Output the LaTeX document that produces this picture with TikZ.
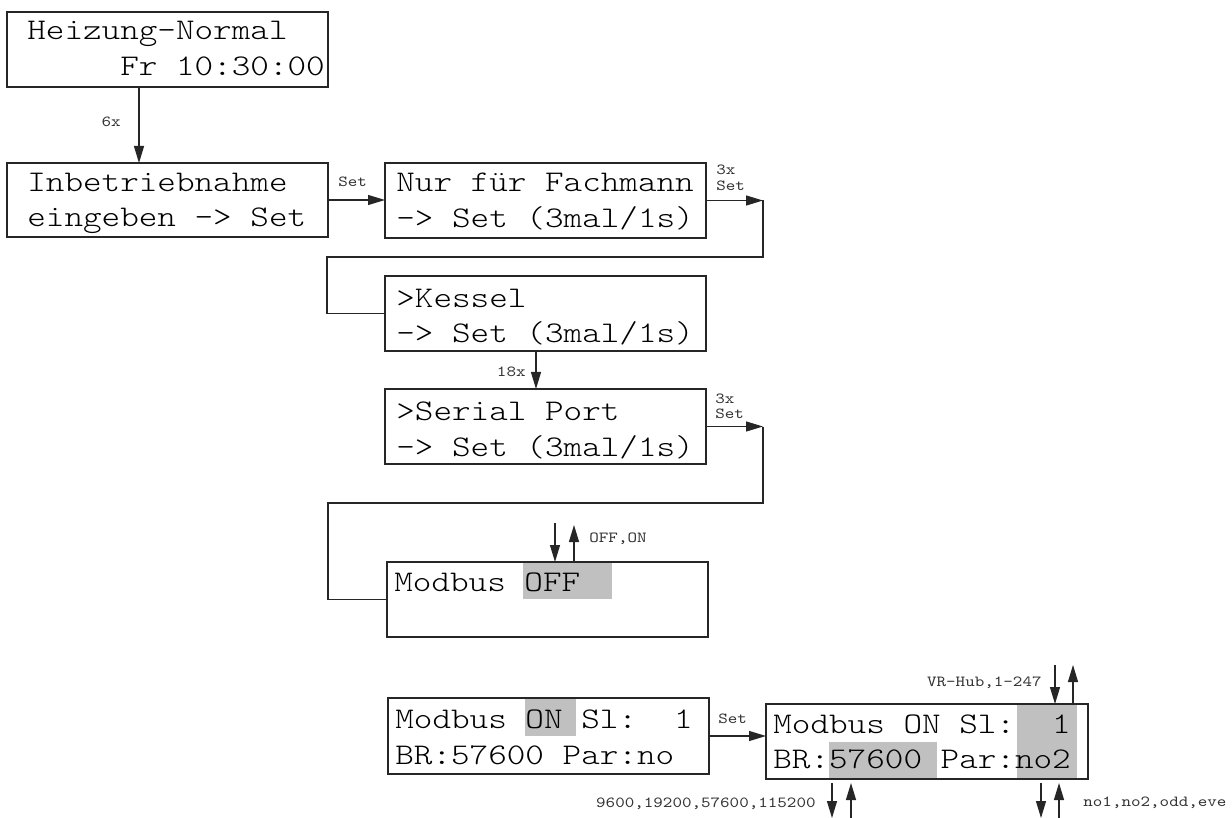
\documentclass[tikz,border=0pt]{standalone}
\usepackage{fontspec}
\newfontfamily\lcdfont{lmmonolt10-regular.otf}[FakeStretch=1.18]
\newfontfamily\lblfont{lmmono10-regular.otf}[FakeStretch=1.18]
\usetikzlibrary{arrows.meta}
\definecolor{hl}{RGB}{192,192,192}
\begin{document}
\begin{tikzpicture}[x=0.5pt,y=-0.5pt,
  lcdbox/.style={draw=black!85, line width=0.6pt, inner sep=0pt, outer sep=0pt, anchor=north west},
  lcd/.style={inner sep=0pt, anchor=base west, font=\lcdfont\fontsize{15}{18}\selectfont\frenchspacing},
  lbl/.style={inner sep=0pt, text=black!80, font=\lblfont\fontsize{7.7}{9}\selectfont\frenchspacing},
  arr/.style={draw=black!85, line width=0.6pt, -{Triangle[length=8.5pt,width=5pt]}},
  wire/.style={draw=black!85, line width=0.6pt}]
\useasboundingbox (0,0) rectangle (1232,818);

% highlights
\fill[hl] (523,562) rectangle (612,599);
\fill[hl] (525,698) rectangle (576,736);
\fill[hl] (1017,704) rectangle (1077,779);
\fill[hl] (829,742) rectangle (937,779);

% boxes
\node[lcdbox, minimum width=160.5pt, minimum height=37.5pt] (A) at (7,12) {};
\node[lcdbox, minimum width=160.5pt, minimum height=37pt] (B) at (7,163) {};
\node[lcdbox, minimum width=160.5pt, minimum height=37.5pt] (C) at (385,163) {};
\node[lcdbox, minimum width=160.5pt, minimum height=37.5pt] (D) at (385,276) {};
\node[lcdbox, minimum width=160.5pt, minimum height=37.5pt] (E) at (385,389) {};
\node[lcdbox, minimum width=160.5pt, minimum height=37.5pt] (F) at (387,562) {};
\node[lcdbox, minimum width=160.5pt, minimum height=38pt] (G) at (388,698) {};
\node[lcdbox, minimum width=161pt, minimum height=37.5pt] (H) at (766,704) {};

% texts
\node[lcd] (A1) at (27,40) {Heizung-Normal};
\node[lcd] (A2) at (27,76) {\ \ \ \ \ Fr 10:30:00};
\node[lcd] (B1) at (27,192) {Inbetriebnahme};
\node[lcd] (B2) at (27,227) {eingeben -> Set};
\node[lcd] (C1) at (396,192) {Nur für Fachmann};
\node[lcd] (C2) at (396,228) {-> Set (3mal/1s)};
\node[lcd] (D1) at (396,307) {>Kessel};
\node[lcd] (D2) at (396,343) {-> Set (3mal/1s)};
\node[lcd] (E1) at (396,420) {>Serial Port};
\node[lcd] (E2) at (396,456) {-> Set (3mal/1s)};
\node[lcd] (F1) at (394,591) {Modbus OFF};
\node[lcd] (G1) at (395,728) {Modbus ON Sl:\ \ 1};
\node[lcd] (G2) at (395,764) {BR:57600 Par:no};
\node[lcd] (H1) at (773,733) {Modbus ON Sl:\ \ 1};
\node[lcd] (H2) at (773,768) {BR:57600 Par:no2};

% connector A -> B
\draw[arr] ([xshift=66pt]A.south west) -- ([xshift=66pt]B.north west);
\node[lbl, anchor=base east] (l6x) at (121,127) {6x};

% B -> C
\draw[arr] (B.east) -- (B.east -| C.west);
\node[lbl, anchor=base west] (lset1) at (338,187) {Set};

% C -> D
\coordinate (r1) at (763,200.5);
\coordinate (r2) at (763,257);
\coordinate (r3) at (327,257);
\coordinate (r4) at (327,313.5);
\draw[arr] (C.east) -- (r1);
\draw[wire] (r1) -- (r2) -- (r3) -- (r4) -- (D.west);
\node[lbl, anchor=base west] (l3x1) at (716,175) {3x};
\node[lbl, anchor=base west] (lset2) at (716,191) {Set};

% D -> E
\draw[arr] ([xshift=75.5pt]D.south west) -- ([xshift=75.5pt]E.north west);
\node[lbl, anchor=base east] (l18x) at (526,377) {18x};

% E -> F
\coordinate (s1) at (763,426.5);
\coordinate (s2) at (763,503);
\coordinate (s3) at (328,503);
\coordinate (s4) at (328,599.5);
\draw[arr] (E.east) -- (s1);
\draw[wire] (s1) -- (s2) -- (s3) -- (s4) -- (F.west);
\node[lbl, anchor=base west] (l3x2) at (715,403) {3x};
\node[lbl, anchor=base west] (lset3) at (715,418) {Set};

% F value arrows
\coordinate (f1) at (555,523);
\coordinate (f2) at (574,525);
\draw[arr] (f1) -- (f1 |- F.north);
\draw[arr] (f2 |- F.north) -- (f2);
\node[lbl, anchor=base west] (loff) at (589,542) {OFF,ON};

% G -> H
\draw[arr] (G.east) -- (G.east -| H.west);
\node[lbl, anchor=base west] (lset4) at (718,723) {Set};

% H top arrows
\coordinate (h1) at (1055,665);
\coordinate (h2) at (1073,665);
\draw[arr] (h1) -- (h1 |- H.north);
\draw[arr] (h2 |- H.north) -- (h2);
\node[lbl, anchor=base east] (lvr) at (1042,686) {VR-Hub,1-247};

% H bottom arrows
\coordinate (b1s) at (832,783);
\coordinate (b1e) at (832,818);
\coordinate (b2s) at (851,818);
\coordinate (b2e) at (851,783);
\coordinate (b3s) at (1041,783);
\coordinate (b3e) at (1041,818);
\coordinate (b4s) at (1059,818);
\coordinate (b4e) at (1059,783);
\draw[arr] (b1s) -- (b1e);
\draw[arr] (b2s) -- (b2e);
\draw[arr] (b3s) -- (b3e);
\draw[arr] (b4s) -- (b4e);
\node[lbl, anchor=base east] (lbr) at (816,807) {9600,19200,57600,115200};
\node[lbl, anchor=base west] (lpar) at (1083,806) {no1,no2,odd,eve};
\end{tikzpicture}
\end{document}
